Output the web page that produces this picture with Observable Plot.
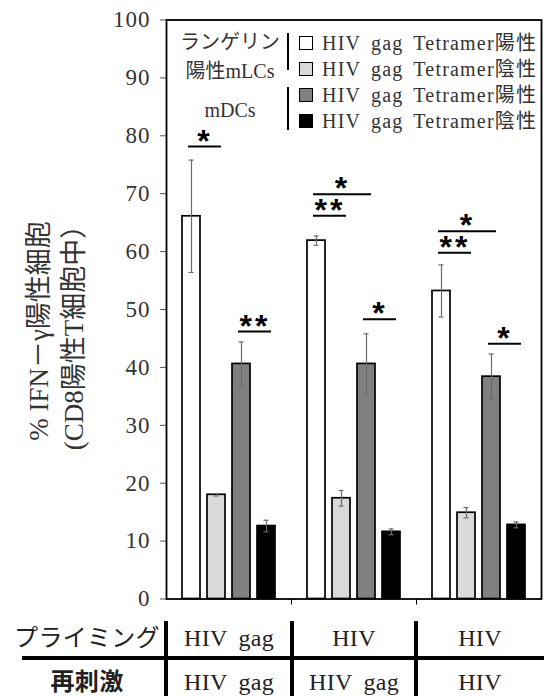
<!DOCTYPE html>
<html><head><meta charset="utf-8">
<script src="https://cdn.jsdelivr.net/npm/d3@7"></script>
<script src="https://cdn.jsdelivr.net/npm/@observablehq/plot@0.6"></script>
<style>
body{margin:0;background:#fff;}
#wrap{position:relative;width:544px;height:696px;overflow:hidden;font-family:"Liberation Serif","DejaVu Serif","Noto Sans CJK JP",serif;color:#222;}
#chart{position:absolute;left:0;top:0;}
.abs{position:absolute;white-space:nowrap;}
.ytitle{left:57px;top:331px;transform:translate(-50%,-50%) rotate(-90deg);font-size:27px;line-height:35px;text-align:center;color:#333;}
.lgroup{left:170px;width:120px;text-align:center;font-size:20px;line-height:24px;transform:translateY(-50%);color:#333;}
.bracket{left:287px;width:2px;background:#000;}
.sw{left:299px;width:14px;height:14px;box-sizing:border-box;border:1.5px solid #000;}
.lt{left:322px;font-size:20px;line-height:24px;transform:translateY(-50%);letter-spacing:1.2px;word-spacing:4px;color:#333;}
#table{position:absolute;left:0;top:606px;width:544px;height:90px;}
.hl{position:absolute;background:#000;}
.cell{position:absolute;text-align:center;font-size:24px;line-height:30px;transform:translateY(-50%);white-space:nowrap;letter-spacing:0.3px;word-spacing:5px;color:#222;}
svg [aria-label="y-axis tick label"] text{letter-spacing:1px;}
svg .stars text{letter-spacing:3px;}
</style></head><body><div id="wrap"><div id="chart"></div></div>
<script>
// ---- data ----
const groups = ["HIV gag/HIV gag", "HIV/HIV gag", "HIV/HIV"];
const priming = ["HIV gag", "HIV", "HIV"];
const restim = ["HIV gag", "HIV gag", "HIV"];
const cellTypes = ["mLC tet+", "mLC tet-", "mDC tet+", "mDC tet-"];
const legendGroups = ["ランゲリン", "陽性mLCs", "mDCs"];
const legendLabels = ["HIV gag Tetramer陽性", "HIV gag Tetramer陰性", "HIV gag Tetramer陽性", "HIV gag Tetramer陰性"];
const values = [
  [66.1, 18.0, 40.6, 12.6],
  [61.9, 17.4, 40.6, 11.6],
  [53.2, 14.9, 38.4, 12.8]
];
const errors = [
  [9.7, 0.2, 3.8, 1.0],
  [0.8, 1.35, 5.2, 0.5],
  [4.5, 0.9, 3.9, 0.5]
];
const sigGroup = [0, 0, 1, 1, 1, 2, 2, 2];
const sigFrom  = [0, 2, 0, 0, 2, 0, 0, 2];
const sigTo    = [1, 3, 2, 1, 3, 2, 1, 3];
const sigLevel = [78.15, 46.2, 69.9, 66.2, 48.3, 63.5, 59.8, 44.1];
const sigLabel = ["*", "**", "*", "**", "*", "*", "**", "*"];
const yTicks = [0, 10, 20, 30, 40, 50, 60, 70, 80, 90, 100];
const yTitle = ["% IFN－γ陽性細胞", "(CD8陽性T細胞中）"];
const rowLabels = ["プライミング", "再刺激"];

// ---- build ----
const fills = ["#ffffff", "#d9d9d9", "#808080", "#000000"];
const key = (g, t) => g + "|" + t;
const domain = [];
groups.forEach((g, i) => {
  cellTypes.forEach(t => domain.push(key(g, t)));
  if (i < groups.length - 1) domain.push(key(g, "sep"));
});
const seps = groups.slice(0, -1).map(g => key(g, "sep"));
const bars = groups.flatMap((g, i) => cellTypes.map((t, j) => ({key: key(g, t), type: t, v: values[i][j], e: errors[i][j]})));
const sigs = sigGroup.map((gi, k) => {
  const g = groups[gi], a = sigFrom[k], b = sigTo[k];
  const pair = (b - a) === 1;
  return {from: key(g, cellTypes[a]), to: key(g, cellTypes[b]), level: sigLevel[k], label: sigLabel[k], pair,
          at: pair ? key(g, cellTypes[a]) : key(g, cellTypes[(a + b) / 2])};
});
const starOpts = {y: "level", text: "label", lineAnchor: "bottom", dy: 5, fontSize: 32, fontWeight: "bold", fontFamily: "Liberation Sans, Arial, sans-serif", fill: "#000", className: "stars"};

const plot = Plot.plot({
  width: 544, height: 606,
  marginLeft: 166, marginRight: 3, marginTop: 19.5, marginBottom: 7.5,
  style: {fontFamily: "Liberation Serif, DejaVu Serif, serif", fontSize: "23px", color: "#333", background: "transparent", overflow: "visible"},
  x: {type: "band", domain, paddingInner: 0.28, paddingOuter: 0.64, axis: null},
  y: {domain: [0, 100], axis: null},
  color: {domain: cellTypes, range: fills},
  marks: [
    Plot.barY(bars, {x: "key", y: "v", fill: "type", stroke: "#000", strokeWidth: 1.7}),
    Plot.ruleX(bars, {x: "key", y1: d => d.v - d.e, y2: d => d.v + d.e, stroke: "#6b6b6b", strokeWidth: 1.2}),
    Plot.tickY(bars, {x: "key", y: d => d.v + d.e, stroke: "#6b6b6b", strokeWidth: 1.2, inset: 6.5}),
    Plot.tickY(bars, {x: "key", y: d => d.v - d.e, stroke: "#6b6b6b", strokeWidth: 1.2, inset: 6.5}),
    Plot.ruleY(sigs, {x1: "from", x2: "to", y: "level", stroke: "#000", strokeWidth: 2, insetLeft: 6, insetRight: 4}),
    Plot.text(sigs.filter(d => d.pair), {...starOpts, x: "at", dx: 13.5}),
    Plot.text(sigs.filter(d => !d.pair), {...starOpts, x: "at", dx: 1}),
    Plot.axisY({ticks: yTicks, tickSize: 6, tickPadding: 10, tickFormat: d => String(d), stroke: "#555", fill: "#333", label: null}),
    Plot.axisX({ticks: seps, tickSize: 6, tickFormat: () => "", stroke: "#000", label: null}),
    Plot.frame({stroke: "#000", strokeWidth: 1.8})
  ]
});
const wrap = document.getElementById("wrap");
document.getElementById("chart").appendChild(plot);

function el(cls, css, html) {
  const d = document.createElement("div");
  d.className = cls;
  Object.assign(d.style, css);
  if (html != null) d.textContent = html;
  return d;
}
// y title
const yt = el("abs ytitle", {});
yt.innerHTML = yTitle.join("<br>");
wrap.appendChild(yt);
// legend
const lgY = [42, 71, 110];
legendGroups.forEach((t, i) => wrap.appendChild(el("abs lgroup", {top: lgY[i] + "px"}, t)));
wrap.appendChild(el("abs bracket", {top: "33px", height: "37px"}));
wrap.appendChild(el("abs bracket", {top: "87px", height: "43px"}));
legendLabels.forEach((t, i) => {
  const cy = 42.5 + 26 * i;
  wrap.appendChild(el("abs sw", {top: (cy - 7) + "px", background: fills[i]}));
  wrap.appendChild(el("abs lt", {top: cy + "px"}, t));
});
// bottom table
const tb = document.createElement("div");
tb.id = "table";
wrap.appendChild(tb);
const colEdges = [0, 166, 292, 416, 544];
const hl = document.createElement("div"); hl.className = "hl";
Object.assign(hl.style, {left: "22px", top: "50px", width: "522px", height: "4px"});
tb.appendChild(hl);
[166, 292, 416].forEach(x => {
  const v = document.createElement("div"); v.className = "hl";
  Object.assign(v.style, {left: (x - 2) + "px", top: "15px", width: "4px", height: "75px"});
  tb.appendChild(v);
});
const rowsY = [32, 76];
const rows = [[rowLabels[0], ...priming], [rowLabels[1], ...restim]];
rows.forEach((r, ri) => r.forEach((t, ci) => {
  const c = document.createElement("div"); c.className = "cell";
  const pad = ci === 0 ? 8 : 0;
  Object.assign(c.style, {left: (colEdges[ci] + pad) + "px", width: (colEdges[ci + 1] - colEdges[ci] - pad) + "px", top: rowsY[ri] + "px",
    fontWeight: (ri === 1 && ci === 0) ? "bold" : "normal"});
  c.textContent = t;
  tb.appendChild(c);
}));
</script></body></html>
